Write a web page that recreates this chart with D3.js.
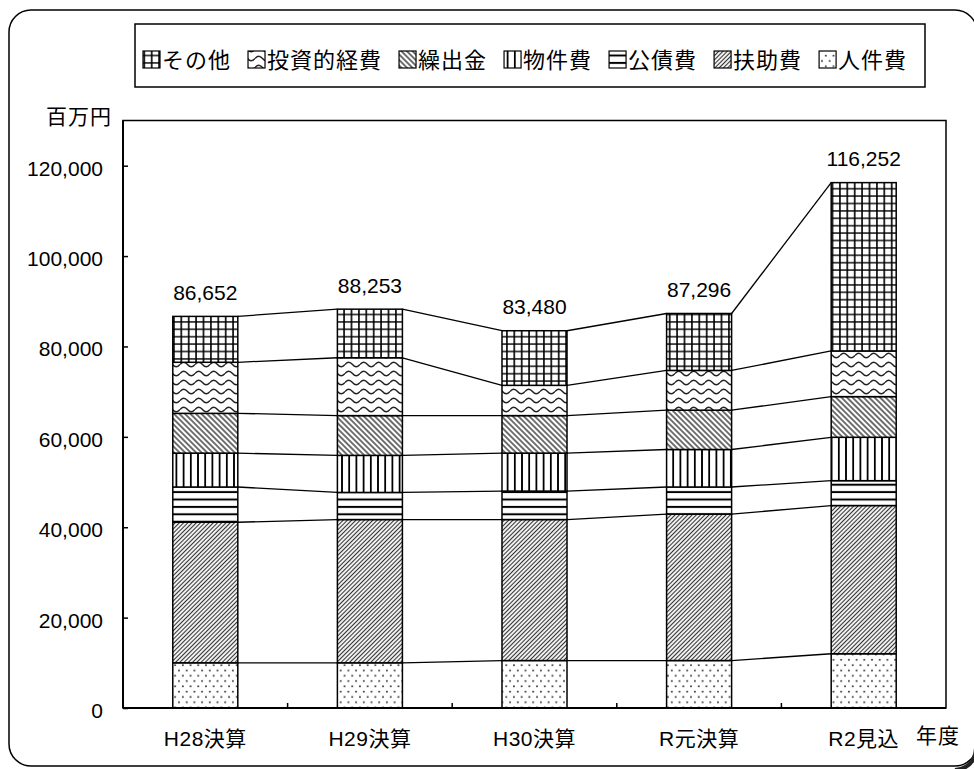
<!DOCTYPE html>
<html><head><meta charset="utf-8">
<script src="https://cdn.jsdelivr.net/npm/d3@7/dist/d3.min.js"></script>
<style>
body{margin:0;background:#fff}
svg{display:block}
text{font-family:"Liberation Sans","Noto Sans CJK JP",sans-serif;fill:#000;font-weight:normal}
</style>
</head><body>
<script>
// ---- data (百万円) ----
const categories = ["H28決算","H29決算","H30決算","R元決算","R2見込"];
const seriesNames = ["人件費","扶助費","公債費","物件費","繰出金","投資的経費","その他"]; // bottom -> top
const legendOrder = ["その他","投資的経費","繰出金","物件費","公債費","扶助費","人件費"];
const jinkenhi   = [10000, 10000, 10500, 10500, 12000];
const fujohi     = [31100, 31700, 31200, 32400, 32800];
const kosaihi    = [7800, 6000, 6300, 6000, 5500];
const bukkenhi   = [7500, 8200, 8400, 8300, 9600];
const kuridashi  = [8800, 8800, 8300, 8700, 9000];
const toshiteki  = [11300, 12800, 6700, 8800, 10100];
const sonota     = [10152, 10753, 12080, 12596, 37252];
const totals     = [86652, 88253, 83480, 87296, 116252];
const yTicks     = [0, 20000, 40000, 60000, 80000, 100000, 120000];
const yUnitLabel = "百万円";
const xUnitLabel = "年度";

const seriesValues = {"人件費":jinkenhi,"扶助費":fujohi,"公債費":kosaihi,"物件費":bukkenhi,
  "繰出金":kuridashi,"投資的経費":toshiteki,"その他":sonota};

const W = 974, H = 769;
const svg = d3.select("body").append("svg").attr("width", W).attr("height", H);
const defs = svg.append("defs");

// ---- patterns ----
function makePattern(id, w, h, transform) {
  const p = defs.append("pattern").attr("id", id).attr("patternUnits", "userSpaceOnUse")
    .attr("width", w).attr("height", h);
  if (transform) p.attr("patternTransform", transform);
  p.append("rect").attr("width", w).attr("height", h).attr("fill", "#fff");
  return p;
}
makePattern("pat-その他", 7.4, 7.4).append("path")
  .attr("d", "M3.7,0V7.4M0,3.7H7.4").attr("stroke", "#000").attr("stroke-width", 1.6);
makePattern("pat-投資的経費", 15, 9).append("path")
  .attr("d", "M0,4.5C2.5,1.5 5,1.5 7.5,4.5C10,7.5 12.5,7.5 15,4.5")
  .attr("fill", "none").attr("stroke", "#222").attr("stroke-width", 1.4);
makePattern("pat-繰出金", 3.9, 3.9, "rotate(-45)").append("line")
  .attr("x1", 1.95).attr("x2", 1.95).attr("y1", 0).attr("y2", 3.9)
  .attr("stroke", "#222").attr("stroke-width", 1.3);
makePattern("pat-物件費", 7.2, 10).append("line")
  .attr("x1", 3.6).attr("x2", 3.6).attr("y1", 0).attr("y2", 10)
  .attr("stroke", "#000").attr("stroke-width", 1.8);
makePattern("pat-公債費", 10, 7.4).append("line")
  .attr("x1", 0).attr("x2", 10).attr("y1", 3.7).attr("y2", 3.7)
  .attr("stroke", "#000").attr("stroke-width", 2);
makePattern("pat-扶助費", 3, 3, "rotate(45)").append("line")
  .attr("x1", 1.5).attr("x2", 1.5).attr("y1", 0).attr("y2", 3)
  .attr("stroke", "#333").attr("stroke-width", 1.15);
const dp = makePattern("pat-人件費", 7.7, 10.6);
dp.append("circle").attr("cx", 1.9).attr("cy", 2.6).attr("r", 0.9).attr("fill", "#222");
dp.append("circle").attr("cx", 5.75).attr("cy", 7.9).attr("r", 0.9).attr("fill", "#222");

// ---- outer frame ----
svg.append("rect").attr("x", 9).attr("y", 10).attr("width", 968).attr("height", 756).attr("rx", 22)
  .attr("fill", "#fff").attr("stroke", "#000").attr("stroke-width", 1.5);
// shadow at bottom-right corner
svg.append("path").attr("d", "M976,748 Q975,768 955,770")
  .attr("fill", "none").attr("stroke", "#222").attr("stroke-width", 4);

// ---- scales ----
const plotL = 123, plotR = 946, plotT = 120.5, plotB = 708;
const x = d3.scaleBand().domain(categories).range([plotL, plotR]).paddingInner(0.605).paddingOuter(0.3025);
const y = d3.scaleLinear().domain([0, 130000]).range([plotB, plotT]);

// ---- stacked data ----
const rows = categories.map((c, i) => {
  const r = {cat: c};
  seriesNames.forEach(s => r[s] = seriesValues[s][i]);
  return r;
});
const stacked = d3.stack().keys(seriesNames)(rows);

// plot frame
svg.append("rect").attr("x", plotL).attr("y", plotT).attr("width", plotR - plotL).attr("height", plotB - plotT)
  .attr("fill", "#fff").attr("stroke", "#000").attr("stroke-width", 1.5);

// connector lines
const bw = x.bandwidth();
stacked.forEach(layer => {
  for (let i = 0; i < layer.length - 1; i++) {
    const a = layer[i], b = layer[i + 1];
    svg.append("line")
      .attr("x1", x(a.data.cat) + bw).attr("y1", y(a[1]))
      .attr("x2", x(b.data.cat)).attr("y2", y(b[1]))
      .attr("stroke", "#000").attr("stroke-width", 1.3);
  }
});

// bars
stacked.forEach(layer => {
  svg.append("g").selectAll("rect").data(layer).join("rect")
    .attr("x", d => x(d.data.cat)).attr("y", d => y(d[1]))
    .attr("width", bw).attr("height", d => y(d[0]) - y(d[1]))
    .attr("fill", `url(#pat-${layer.key})`).attr("stroke", "#000").attr("stroke-width", 1.5);
});

// total labels
svg.append("g").selectAll("text").data(categories).join("text")
  .attr("x", d => x(d) + bw / 2).attr("y", (d, i) => y(totals[i]) - 16.5)
  .attr("text-anchor", "middle").style("font-size", "21px")
  .text((d, i) => d3.format(",")(totals[i]));

// y axis
const yAxis = svg.append("g").attr("transform", `translate(${plotL},0)`)
  .call(d3.axisLeft(y).tickValues(yTicks).tickSize(-5).tickPadding(20).tickFormat(d3.format(",")));
yAxis.select(".domain").remove();
yAxis.selectAll(".tick line").attr("stroke", "#000").attr("stroke-width", 1.5);
yAxis.selectAll(".tick text").style("font-size", "21px").attr("dy", "0.45em")
  .style("font-family", "'Liberation Sans','Noto Sans CJK JP',sans-serif");

// x axis
const xAxis = svg.append("g").attr("transform", `translate(0,${plotB})`)
  .call(d3.axisBottom(x).tickSize(0).tickPadding(31));
xAxis.select(".domain").remove();
xAxis.selectAll(".tick text").attr("y", 31).attr("dy", "0.35em").style("font-size", "21px")
  .style("letter-spacing", "0.5px")
  .style("font-family", "'Liberation Sans','Noto Sans CJK JP',sans-serif");
const boundaries = d3.range(1, categories.length).map(i => x.range()[0] + i * x.step());
svg.append("g").selectAll("line").data(boundaries).join("line")
  .attr("x1", d => d).attr("x2", d => d).attr("y1", plotB - 5).attr("y2", plotB)
  .attr("stroke", "#000").attr("stroke-width", 1.5);

svg.append("line").attr("x1", plotL).attr("x2", plotL).attr("y1", plotT).attr("y2", plotB)
  .attr("stroke", "#000").attr("stroke-width", 2);
svg.append("line").attr("x1", plotL).attr("x2", plotR).attr("y1", plotB).attr("y2", plotB)
  .attr("stroke", "#000").attr("stroke-width", 2);

// unit labels
svg.append("text").attr("x", 46).attr("y", 116).attr("dominant-baseline", "central")
  .style("font-size", "21px").style("letter-spacing", "1px").text(yUnitLabel);
svg.append("text").attr("x", 916).attr("y", 735).attr("dominant-baseline", "central")
  .style("font-size", "21px").style("letter-spacing", "1px").text(xUnitLabel);

// legend
svg.append("rect").attr("x", 135).attr("y", 24).attr("width", 790).attr("height", 63)
  .attr("fill", "#fff").attr("stroke", "#000").attr("stroke-width", 1.5);
let lx = 143;
legendOrder.forEach(name => {
  svg.append("rect").attr("x", lx).attr("y", 51).attr("width", 17).attr("height", 17)
    .attr("fill", `url(#pat-${name})`).attr("stroke", "#000").attr("stroke-width", 1.2);
  const t = svg.append("text").attr("x", lx + 19).attr("y", 60).attr("dominant-baseline", "central")
    .style("font-size", "22px").style("letter-spacing", "1px").text(name);
  lx += 19 + t.node().getComputedTextLength() + 17;
});
</script>
</body></html>
